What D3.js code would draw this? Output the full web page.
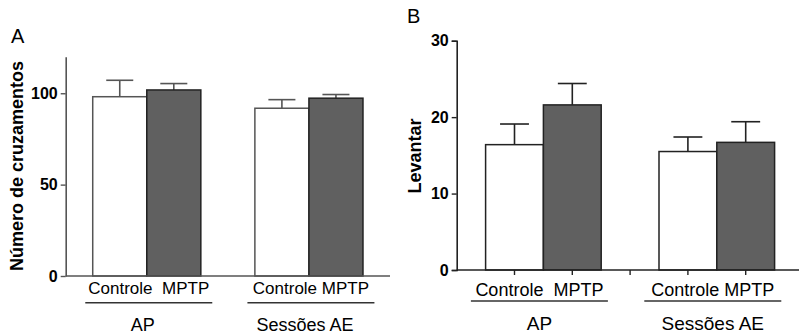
<!DOCTYPE html>
<html>
<head>
<meta charset="utf-8">
<script src="https://cdn.jsdelivr.net/npm/d3@7"></script>
<style>
  body { margin: 0; background: #fff; }
  svg { display: block; font-family: "Liberation Sans", Arial, sans-serif; }
</style>
</head>
<body>
<script>
// data
var groups = ["AP", "Sessões AE"];
var series = ["Controle", "MPTP"];
var catLabels = ["Controle  MPTP", "Controle MPTP"];

var crossMean = [[98.1, 101.8], [91.8, 97.3]];
var crossErr  = [[107.1, 105.3], [96.5, 99.3]];
var crossTicks = [0, 50, 100];

var rearMean = [[16.4, 21.6], [15.5, 16.7]];
var rearErr  = [[19.1, 24.4], [17.4, 19.4]];
var rearTicks = [0, 10, 20, 30];

var fills = ["#ffffff", "#606060"];

var svg = d3.select("body").append("svg")
    .attr("width", 799)
    .attr("height", 334);

function panel(o) {
    var g = svg.append("g");

    var x0 = d3.scaleBand().domain(groups).range(o.xr)
        .paddingInner(1 / 3).paddingOuter(1 / 6);
    var x1 = d3.scaleBand().domain(series).range([0, x0.bandwidth()]);
    var y = d3.scaleLinear().domain(o.ydom).range(o.yr);
    var bw = x1.bandwidth();

    var rows = [];
    groups.forEach(function(gr, i) {
        series.forEach(function(s, j) {
            rows.push({g: gr, s: s, j: j, v: o.mean[i][j], e: o.err[i][j]});
        });
    });

    // error bars (upper only)
    var eb = g.selectAll(".eb").data(rows).enter().append("g")
        .attr("stroke", o.line).attr("stroke-width", 1.6);
    eb.append("line")
        .attr("x1", d => x0(d.g) + x1(d.s) + bw / 2)
        .attr("x2", d => x0(d.g) + x1(d.s) + bw / 2)
        .attr("y1", d => y(d.v)).attr("y2", d => y(d.e));
    eb.append("line")
        .attr("x1", d => x0(d.g) + x1(d.s) + bw / 4)
        .attr("x2", d => x0(d.g) + x1(d.s) + bw * 3 / 4)
        .attr("y1", d => y(d.e)).attr("y2", d => y(d.e));

    g.selectAll(".bar").data(rows).enter().append("rect")
        .attr("x", d => x0(d.g) + x1(d.s))
        .attr("y", d => y(d.v))
        .attr("width", bw)
        .attr("height", d => y(0) - y(d.v))
        .attr("fill", d => fills[d.j])
        .attr("stroke", d => d.j ? "#222" : o.line)
        .attr("stroke-width", 1.5);

    // y axis
    var ya = g.append("g")
        .attr("transform", "translate(" + o.xr[0] + ",0)")
        .call(d3.axisLeft(y).tickValues(o.ticks).tickSize(5).tickPadding(3).tickSizeOuter(o.outer));
    ya.select(".domain").attr("stroke", o.line).attr("stroke-width", 1.6);
    ya.selectAll(".tick line").attr("stroke", o.line).attr("stroke-width", 1.4);
    ya.selectAll("text").attr("font-size", 16).attr("font-weight", "bold")
        .attr("fill", "#000").attr("font-family", "Liberation Sans, Arial, sans-serif");

    // x axis line
    g.append("line")
        .attr("x1", o.xr[0]).attr("x2", o.xr[1])
        .attr("y1", y(0)).attr("y2", y(0))
        .attr("stroke", o.line).attr("stroke-width", 1.6);

    if (o.xticks) {
        var xt = [];
        rows.forEach(d => xt.push(x0(d.g) + x1(d.s) + bw / 2));
        xt.splice(2, 0, (x0(groups[0]) + x0.bandwidth() + x0(groups[1])) / 2);
        g.selectAll(".xt").data(xt).enter().append("line")
            .attr("x1", d => d).attr("x2", d => d)
            .attr("y1", y(0)).attr("y2", y(0) + 5)
            .attr("stroke", o.line).attr("stroke-width", 1.4);
    }

    // category labels, underline, group label
    groups.forEach(function(gr, i) {
        var cx = x0(gr) + x0.bandwidth() / 2;
        g.append("text").attr("x", cx + o.catShift).attr("y", o.catY)
            .attr("text-anchor", "middle").attr("font-size", o.catSize)
            .style("white-space", "pre").text(catLabels[i]);
        g.append("line")
            .attr("x1", cx - o.ulHalf + o.catShift).attr("x2", cx + o.ulHalf + o.catShift)
            .attr("y1", o.ulY).attr("y2", o.ulY)
            .attr("stroke", "#333").attr("stroke-width", 1.4);
        g.append("text").attr("x", cx + o.grpShift).attr("y", o.grpY)
            .attr("text-anchor", "middle").attr("font-size", o.grpSize)
            .text(gr);
    });

    g.append("text")
        .attr("transform", "translate(" + o.titleX + "," + o.titleY + ") rotate(-90)")
        .attr("text-anchor", "middle").attr("font-size", 18).attr("font-weight", "bold")
        .text(o.title);

    g.append("text").attr("x", o.letter[0]).attr("y", o.letter[1])
        .attr("font-size", 20).text(o.name);
}

panel({
    name: "A", letter: [11, 43],
    xr: [65.7, 390], yr: [276, 56.7], ydom: [0, 120],
    mean: crossMean, err: crossErr, ticks: crossTicks, outer: 0,
    line: "#555", xticks: false,
    catY: 294, catSize: 17, catShift: 2,
    ulY: 302.7, ulHalf: 63.5,
    grpY: 331, grpSize: 18, grpShift: -4,
    title: "Número de cruzamentos", titleX: 23, titleY: 166
});

panel({
    name: "B", letter: [407, 23],
    xr: [456.7, 803.5], yr: [270, 40.7], ydom: [0, 30],
    mean: rearMean, err: rearErr, ticks: rearTicks, outer: 5,
    line: "#222", xticks: true,
    catY: 295.5, catSize: 18, catShift: -4,
    ulY: 301, ulHalf: 68.5,
    grpY: 330, grpSize: 19, grpShift: -4,
    title: "Levantar", titleX: 421, titleY: 156
});
</script>
</body>
</html>
